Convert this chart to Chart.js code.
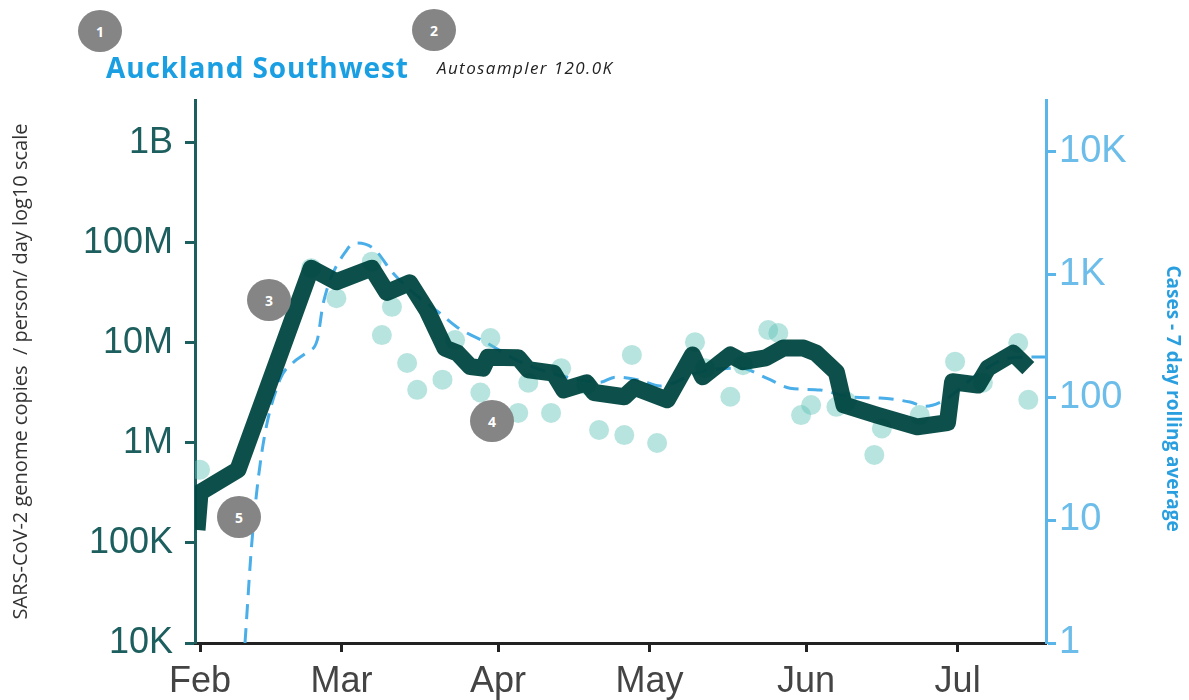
<!DOCTYPE html>
<html>
<head>
<meta charset="utf-8">
<script src="https://cdn.jsdelivr.net/npm/chart.js@4.4.1/dist/chart.umd.min.js"></script>
<style>
    body { margin: 0; background: #fff; }
    #wrap { position: relative; width: 1189px; height: 700px; }
    .site { position: absolute; left: 106px; top: 48px; font: bold 28px 'Open Sans', sans-serif; letter-spacing: 0.9px; color: #1a9fe3; }
    .sampler { position: absolute; left: 437px; top: 56px; font: italic 17px 'Open Sans', sans-serif; letter-spacing: 1.4px; color: #222; }
    .badge {
        position: absolute; width: 44px; height: 42px; border-radius: 50%;
        background: #858585; color: #fff; font: bold 14px 'Open Sans', sans-serif;
        display: flex; align-items: center; justify-content: center; z-index: 2;
    }
</style>
</head>
<body>
<div id="wrap">
    <canvas id="lineChart"></canvas>
    <div class="site">Auckland Southwest</div>
    <div class="sampler">Autosampler 120.0K</div>
    <div class="badge" style="left:78px;top:10px">1</div>
    <div class="badge" style="left:412px;top:9px">2</div>
    <div class="badge" style="left:247px;top:279px">3</div>
    <div class="badge" style="left:470px;top:400px">4</div>
    <div class="badge" style="left:217px;top:496px">5</div>
</div>
<script>
// days counted from 1 Feb
const monthTicks = [0, 28, 59, 89, 120, 150];
const monthLabels = ['Feb', 'Mar', 'Apr', 'May', 'Jun', 'Jul'];

const copiesTicks = [1e4, 1e5, 1e6, 1e7, 1e8, 1e9];
const copiesLabels = ['10K', '100K', '1M', '10M', '100M', '1B'];
const casesTicks = [1, 10, 100, 1000, 10000];
const casesLabels = ['1', '10', '100', '1K', '10K'];

// wastewater rolling average (genome copies / person / day)
const avgDays = [-0.6, 0, 7.5, 22, 27, 34, 37, 41.5, 45, 48.5, 51, 53.5, 56, 57, 63, 65, 70, 72, 76.5, 78,
    84, 86, 92.5, 97.5, 99.5, 105, 107.5, 112, 115.5, 119.5, 122, 126, 127.5, 134, 142, 148, 149, 154, 156, 161, 164];
const avgCopies = [1.35e5, 3.2e5, 5.4e5, 5.6e7, 4.1e7, 5.6e7, 3.2e7, 4.0e7, 2.1e7, 8.9e6, 7.9e6, 5.8e6, 5.6e6, 7.2e6, 7.1e6, 5.4e6, 5.0e6, 3.4e6, 4.0e6, 3.2e6,
    2.9e6, 3.6e6, 2.7e6, 7.6e6, 4.6e6, 7.6e6, 6.5e6, 7.1e6, 8.9e6, 8.9e6, 7.9e6, 5.1e6, 2.4e6, 1.9e6, 1.45e6, 1.6e6, 4.1e6, 3.8e6, 5.6e6, 7.9e6, 5.6e6];

// individual samples
const sampleDays = [0, 22, 27, 34, 36, 38, 41, 43, 48, 50.5, 55.5, 57.5, 63, 65, 69.5, 71.5, 76.5, 79, 84, 85.5,
    90.5, 98, 100, 105, 107.5, 112.5, 114.5, 119, 121, 126, 128, 133.5, 135, 142.5, 149.5, 155, 162, 164];
const sampleCopies = [5.4e5, 5.6e7, 2.8e7, 6.5e7, 1.2e7, 2.3e7, 6.3e6, 3.4e6, 4.3e6, 1.07e7, 3.2e6, 1.12e7, 2.0e6, 4.0e6, 2.0e6, 5.6e6, 3.8e6, 1.35e6, 1.2e6, 7.6e6,
    1.0e6, 1.02e7, 5.6e6, 2.9e6, 6.0e6, 1.35e7, 1.26e7, 1.9e6, 2.4e6, 2.3e6, 2.6e6, 7.6e5, 1.4e6, 1.9e6, 6.5e6, 4.0e6, 1.0e7, 2.7e6];

// cases, 7 day rolling average
const caseDays = [8.9, 10.3, 12.3, 15.8, 18.4, 21.2, 23.2, 24.4, 29.1, 31.1, 34.3, 38.2, 42.2, 47.5, 50.9, 56.8, 63.4, 71.3, 79.2, 82.2,
    87.1, 91.1, 99, 106.9, 112.3, 116.8, 122.8, 128.7, 134.7, 140.6, 143.6, 147.5, 153.5, 160.4, 167.3];
const caseAvg = [1, 6.9, 37, 138, 190, 232, 290, 580, 1580, 1790, 1620, 1020, 705, 480, 370, 275, 193, 150, 132, 145,
    137, 123, 160, 172, 142, 118, 114, 100, 98, 91, 84, 95, 148, 208, 212];

const toPoints = (xs, ys) => xs.map((x, i) => ({ x: x, y: ys[i] }));

const sans = "'Liberation Sans', Arial, sans-serif";

// right axis title, drawn a little below the middle of the axis like the original
const casesTitle = {
    id: 'casesTitle',
    afterDraw(chart) {
        const ctx = chart.ctx;
        const area = chart.chartArea;
        ctx.save();
        ctx.translate(chart.width - 17, (area.top + area.bottom) / 2 + 27);
        ctx.rotate(Math.PI / 2);
        ctx.font = "bold 19px 'Open Sans', sans-serif";
        ctx.fillStyle = '#2a9fe0';
        ctx.textAlign = 'center';
        ctx.textBaseline = 'middle';
        ctx.fillText('Cases - 7 day rolling average', 0, 0);
        ctx.restore();
    }
};

const config = {
    type: 'line',
    data: {
        datasets: [{
            label: 'Wastewater',
            data: toPoints(avgDays, avgCopies),
            yAxisID: 'y',
            borderColor: 'rgba(0, 70, 64, 0.95)',
            borderWidth: 17,
            borderJoinStyle: 'round',
            pointRadius: 0,
            tension: 0,
            order: 0
        }, {
            label: 'Samples',
            type: 'scatter',
            data: toPoints(sampleDays, sampleCopies),
            yAxisID: 'y',
            backgroundColor: 'rgba(95, 195, 185, 0.45)',
            borderWidth: 0,
            pointRadius: 10,
            order: 1
        }, {
            label: 'Cases',
            data: toPoints(caseDays, caseAvg),
            yAxisID: 'y2',
            borderColor: '#4aaee8',
            borderWidth: 3,
            borderDash: [15, 9],
            pointRadius: 0,
            cubicInterpolationMode: 'monotone',
            order: 2
        }]
    },
    options: {
        responsive: true,
        maintainAspectRatio: false,
        animation: false,
        layout: { padding: { top: 100 } },
        plugins: {
            legend: { display: false },
            tooltip: { enabled: false }
        },
        scales: {
            x: {
                type: 'linear',
                min: -1,
                max: 167.5,
                afterBuildTicks: s => { s.ticks = monthTicks.map(v => ({ value: v })); },
                afterFit: s => { s.height = 57; },
                border: { color: '#222', width: 3 },
                grid: { drawOnChartArea: false, tickLength: 9, tickColor: '#222', tickWidth: 3 },
                ticks: {
                    autoSkip: false, maxRotation: 0, padding: 8,
                    color: '#444', font: { family: sans, size: 36 },
                    callback: (v, i) => monthLabels[i]
                }
            },
            y: {
                type: 'logarithmic',
                position: 'left',
                min: 1e4,
                max: 2.69e9,
                afterBuildTicks: s => { s.ticks = copiesTicks.map(v => ({ value: v })); },
                afterFit: s => { s.width = 195; },
                border: { color: '#1d5e5e', width: 3 },
                grid: { drawOnChartArea: false, tickLength: 10, tickColor: '#1d5e5e', tickWidth: 3 },
                ticks: {
                    autoSkip: false, padding: 12,
                    color: '#1d5e5e', font: { family: sans, size: 36 },
                    callback: (v, i) => copiesLabels[i]
                },
                title: {
                    display: true,
                    text: 'SARS-CoV-2 genome copies  / person/ day log10 scale',
                    color: '#333',
                    font: { family: "'Open Sans', sans-serif", size: 20 },
                    padding: { top: 9, bottom: 0 }
                }
            },
            y2: {
                type: 'logarithmic',
                position: 'right',
                min: 1,
                max: 26000,
                afterBuildTicks: s => { s.ticks = casesTicks.map(v => ({ value: v })); },
                afterFit: s => { s.width = 143; },
                border: { color: '#5ab5e8', width: 3 },
                grid: { drawOnChartArea: false, tickLength: 10, tickColor: '#5ab5e8', tickWidth: 3 },
                ticks: {
                    autoSkip: false, padding: 3,
                    color: '#6cbde9', font: { family: sans, size: 38 },
                    callback: (v, i) => casesLabels[i]
                }
            }
        }
    },
    plugins: [casesTitle]
};

const lineChart = new Chart(document.getElementById('lineChart'), config);
</script>
</body>
</html>
